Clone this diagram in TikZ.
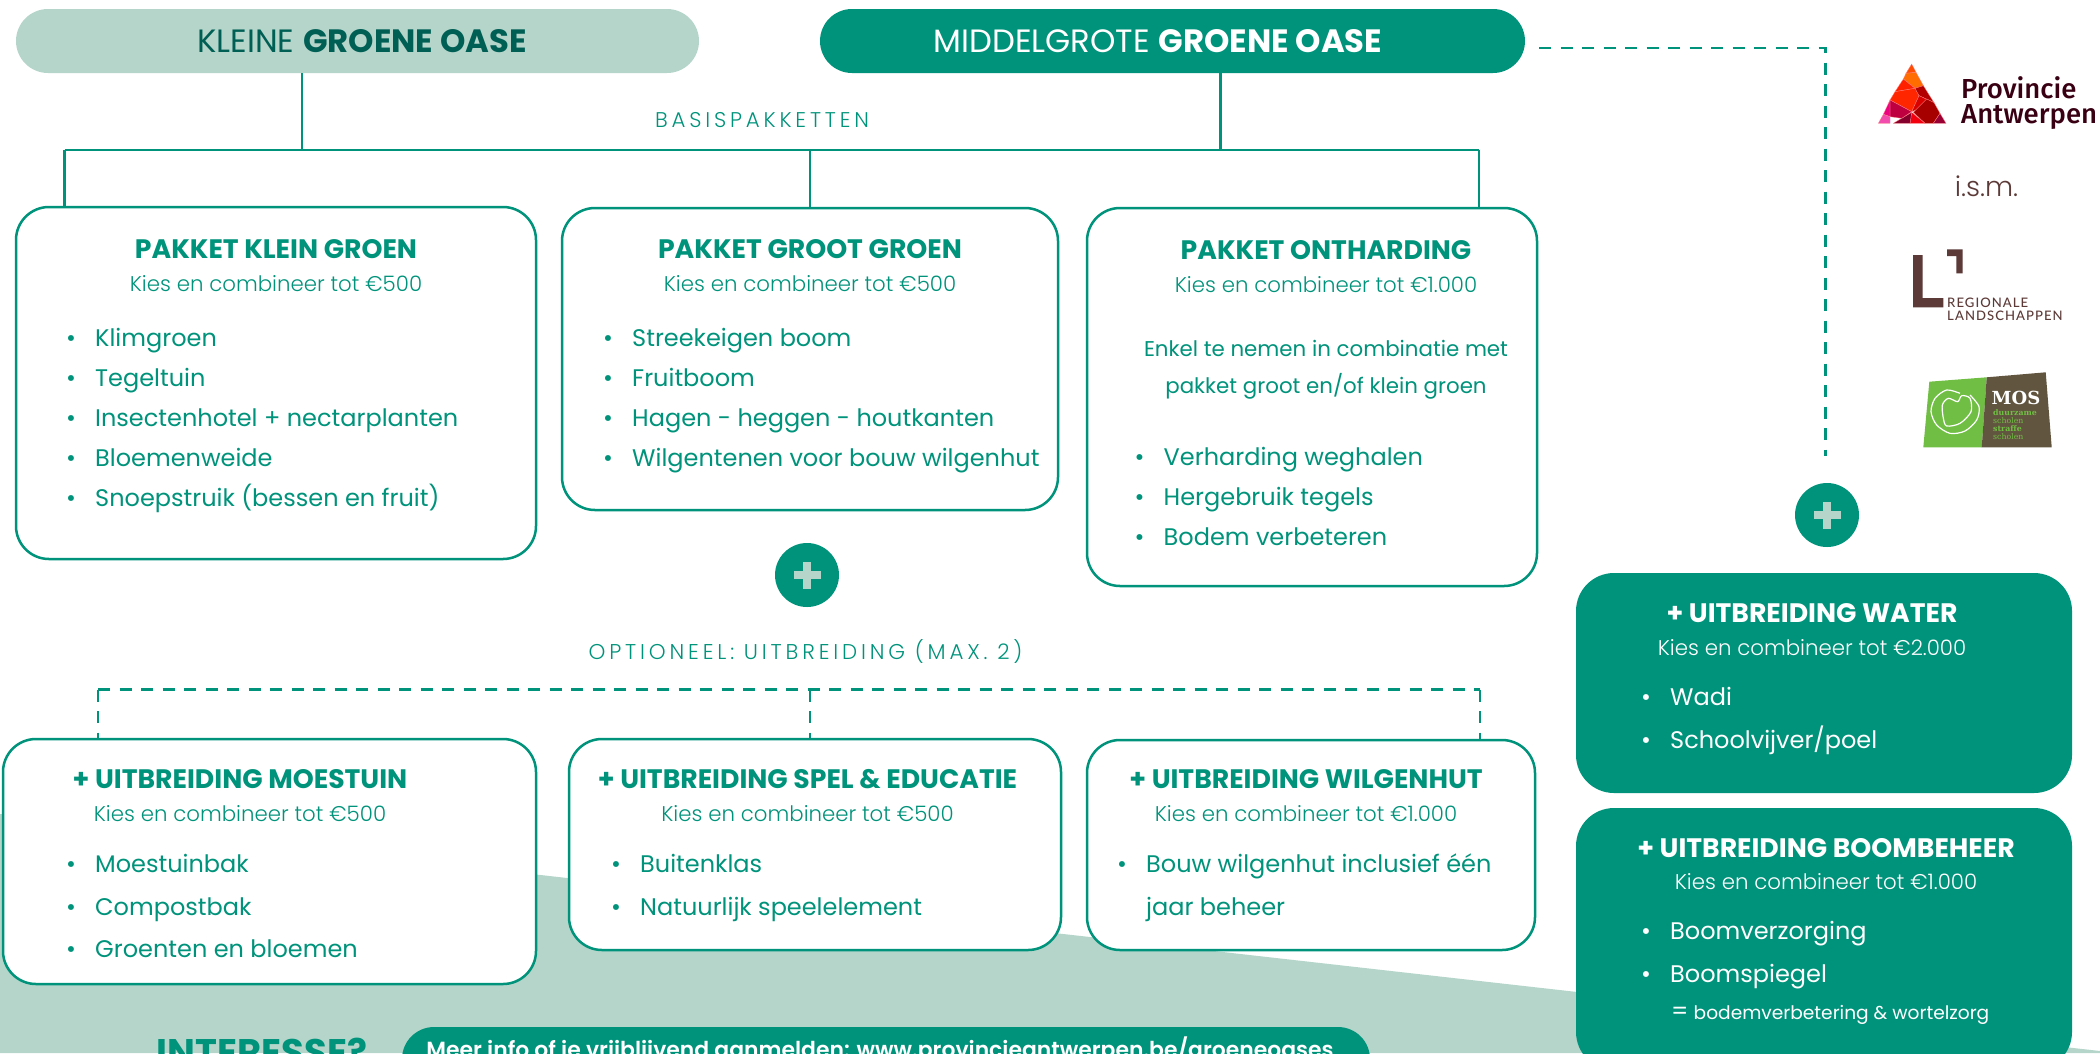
\documentclass[tikz,border=0pt]{standalone}
\usepackage{fontspec}
\setmainfont{Poppins}
\newfontfamily\poplight{Poppins Light}
\newfontfamily\popsemi{Poppins SemiBold}
\newfontfamily\popspaced[LetterSpace=18]{Poppins Light}
\newfontfamily\provfont{Fira Sans Medium}
\newfontfamily\rlfont[LetterSpace=8]{Lato Medium}
\newfontfamily\mosfont{DejaVu Serif}
\usetikzlibrary{positioning,calc}

\definecolor{groen}{HTML}{00937B}
\definecolor{licht}{HTML}{B5D5CA}
\definecolor{donker}{HTML}{005F55}
\definecolor{bruin}{HTML}{5C3A38}
\definecolor{mosgroen}{HTML}{70BF44}
\definecolor{mosbruin}{HTML}{62553F}

\newcommand{\pnt}[1]{\makebox[29pt][l]{•}#1}

\tikzset{
  pil/.style={rounded corners=32pt,minimum height=64pt,inner sep=0pt},
  pakket/.style={draw=groen,fill=white,line width=2.5pt,rounded corners=33pt,inner sep=0pt},
  uitbr/.style={fill=groen,rounded corners=38pt,inner sep=0pt},
  lijn/.style={draw=groen,line width=2.8pt},
  stip/.style={lijn,line width=2.5pt,dash pattern=on 12pt off 9.5pt},
  txt/.style={anchor=base,inner sep=0pt,text=groen},
  titel/.style={txt,yshift=-0.7pt,font=\fontsize{26.7}{26}\bfseries},
  keuze/.style={txt,font=\fontsize{21.3}{21}\poplight},
  item/.style={txt,anchor=base west,font=\fontsize{24}{25}\selectfont},
  wit/.style={text=white},
  plusrond/.style={circle,fill=groen,minimum size=64pt,inner sep=0pt,
    path picture={
      \fill[licht] ($(path picture bounding box.center)+(-13.5,-3.8)$) rectangle ++(27,7.6);
      \fill[licht] ($(path picture bounding box.center)+(-3.8,-13.5)$) rectangle ++(7.6,27);
    }},
}

\begin{document}
\begin{tikzpicture}[x=1pt,y=-1pt]
    \path[use as bounding box,clip] (0,0) rectangle (2100,1053);
    \fill[white] (0,0) rectangle (2100,1053);

    % Background
    \fill[licht] (0,814) -- (2100,1051) -- (2100,1053) -- (0,1053) -- cycle;

    % Top pills
    \node[pil,fill=licht,minimum width=683pt] (kleinPil) at (357.5,41) {};
    \node[pil,fill=groen,minimum width=705pt] (middelPil) at (1172.5,41) {};
    \node[txt,text=donker,font=\fontsize{32.3}{32}\selectfont] (kleinTxt) at (362,52) {KLEINE \textbf{GROENE OASE}};
    \node[txt,wit,font=\fontsize{32.3}{32}\selectfont] (middelTxt) at (1158,52) {MIDDELGROTE \textbf{GROENE OASE}};

    % Basic packages
    \node[txt,font=\fontsize{21.3}{21}\popspaced] (basisTxt) at (762,127) {BASISPAKKETTEN};
    \node[pakket,minimum width=520pt,minimum height=352pt] (pakKlein) at (276,383) {};
    \node[pakket,minimum width=496pt,minimum height=302pt] (pakGroot) at (810,359) {};
    \node[pakket,minimum width=450pt,minimum height=378pt] (pakOnth) at (1312,397) {};

    % Tree lines
    \coordinate (busL) at (64.5,150);
    \coordinate (busK) at (302,150);
    \coordinate (busM) at (810,150);
    \coordinate (busG) at (1220.5,150);
    \coordinate (busR) at (1479,150);
    \draw[lijn] (kleinPil.south -| busK) -- (busK);
    \draw[lijn] (middelPil.south -| busG) -- (busG);
    \draw[lijn] (busL) -- (busR);
    \draw[lijn] (busL) -- (busL |- pakKlein.north);
    \draw[lijn] (busM) -- (busM |- pakGroot.north);
    \draw[lijn] (busR) -- (busR |- pakOnth.north);

    % Pakket klein groen
    \node[titel] (kleinTitel) at (276,258) {PAKKET KLEIN GROEN};
    \node[keuze] (kleinKeuze) at (276,291.5) {Kies en combineer tot €500};
    \node[item] (klein1) at (66,346.5) {\pnt{Klimgroen}};
    \node[item] (klein2) at (66,386.5) {\pnt{Tegeltuin}};
    \node[item] (klein3) at (66,426.5) {\pnt{Insectenhotel + nectarplanten}};
    \node[item] (klein4) at (66,466.5) {\pnt{Bloemenweide}};
    \node[item] (klein5) at (66,506.5) {\pnt{Snoepstruik (bessen en fruit)}};

    % Pakket groot groen
    \node[titel] (grootTitel) at (810,258) {PAKKET GROOT GROEN};
    \node[keuze] (grootKeuze) at (810,291.5) {Kies en combineer tot €500};
    \node[item] (groot1) at (603,346.5) {\pnt{Streekeigen boom}};
    \node[item] (groot2) at (603,386.5) {\pnt{Fruitboom}};
    \node[item] (groot3) at (603,426.5) {\pnt{Hagen - heggen - houtkanten}};
    \node[item] (groot4) at (603,466.5) {\pnt{Wilgentenen voor bouw wilgenhut}};

    % Pakket ontharding
    \node[titel] (onthTitel) at (1326,259) {PAKKET ONTHARDING};
    \node[keuze] (onthKeuze) at (1326,292) {Kies en combineer tot €1.000};
    \node[txt,font=\fontsize{21.35}{22}\selectfont] (onthNoot1) at (1326,356) {Enkel te nemen in combinatie met};
    \node[txt,font=\fontsize{21.35}{22}\selectfont] (onthNoot2) at (1326,393.5) {pakket groot en/of klein groen};
    \node[item] (onth1) at (1134.5,465) {\pnt{Verharding weghalen}};
    \node[item] (onth2) at (1134.5,505) {\pnt{Hergebruik tegels}};
    \node[item] (onth3) at (1134.5,545.5) {\pnt{Bodem verbeteren}};

    % Optional extensions
    \node[plusrond] (plusMidden) at (807,575) {};
    \node[txt,font=\fontsize{21.4}{21}\popspaced] (optieTxt) at (805.5,659) {OPTIONEEL: UITBREIDING (MAX. 2)};
    \node[pakket,minimum width=533pt,minimum height=245pt] (uitMoes) at (269.5,861.5) {};
    \node[pakket,minimum width=492pt,minimum height=211pt] (uitSpel) at (815,844.5) {};
    \node[pakket,minimum width=448pt,minimum height=210pt] (uitWilg) at (1311,845) {};

    \coordinate (optL) at (98,689.5);
    \coordinate (optM) at (810,689.5);
    \coordinate (optR) at (1480,689.5);
    \draw[stip] (optL) -- (optR);
    \draw[stip] (optL) -- (optL |- uitMoes.north);
    \draw[stip] (optM) -- (optM |- uitSpel.north);
    \draw[stip] (optR) -- (optR |- uitWilg.north);

    % Uitbreiding moestuin
    \node[titel] (moesTitel) at (240,788) {+ UITBREIDING MOESTUIN};
    \node[keuze] (moesKeuze) at (240,821.5) {Kies en combineer tot €500};
    \node[item] (moes1) at (66,872.5) {\pnt{Moestuinbak}};
    \node[item] (moes2) at (66,915.5) {\pnt{Compostbak}};
    \node[item] (moes3) at (66,957) {\pnt{Groenten en bloemen}};

    % Uitbreiding spel en educatie
    \node[titel] (spelTitel) at (807.5,788) {+ UITBREIDING SPEL \& EDUCATIE};
    \node[keuze] (spelKeuze) at (807.5,821.5) {Kies en combineer tot €500};
    \node[item] (spel1) at (611,872.5) {\pnt{Buitenklas}};
    \node[item] (spel2) at (611,915.5) {\pnt{Natuurlijk speelelement}};

    % Uitbreiding wilgenhut
    \node[titel] (wilgTitel) at (1306,788) {+ UITBREIDING WILGENHUT};
    \node[keuze] (wilgKeuze) at (1306,821.5) {Kies en combineer tot €1.000};
    \node[item] (wilg1) at (1117,872.5) {\pnt{Bouw wilgenhut inclusief één}};
    \node[item] (wilg2) at (1146,915.5) {jaar beheer};

    % Right column
    \node[plusrond] (plusRechts) at (1827,515) {};
    \coordinate (stipStart) at (1539,48);
    \coordinate (stipHoek) at (1825.5,48);
    \coordinate (stipEind) at (1825.5,456);
    \draw[stip] (stipStart) -- (stipHoek) -- (stipEind);

    \node[uitbr,minimum width=496pt,minimum height=220pt] (uitWater) at (1824,683) {};
    \node[titel,wit] (waterTitel) at (1812,622) {+ UITBREIDING WATER};
    \node[keuze,wit] (waterKeuze) at (1812,655) {Kies en combineer tot €2.000};
    \node[item,wit] (water1) at (1641,705) {\pnt{Wadi}};
    \node[item,wit] (water2) at (1641,748) {\pnt{Schoolvijver/poel}};

    \node[uitbr,minimum width=496pt,minimum height=262pt] (uitBoom) at (1824,939) {};
    \node[titel,wit] (boomTitel) at (1826,856.5) {+ UITBREIDING BOOMBEHEER};
    \node[keuze,wit] (boomKeuze) at (1826,889) {Kies en combineer tot €1.000};
    \node[item,wit] (boom1) at (1641,939) {\pnt{Boomverzorging}};
    \node[item,wit] (boom2) at (1641,982.5) {\pnt{Boomspiegel}};
    \node[item,wit] (boom3) at (1671,1019) {=};
    \node[txt,wit,anchor=base west,font=\fontsize{18.6}{19}\selectfont] (boom4) at (1693.5,1019) {bodemverbetering \& wortelzorg};

    % Bottom band
    \node[txt,font=\fontsize{37}{37}\bfseries] (interesse) at (262,1065) {INTERESSE?};
    \node[pil,fill=groen,minimum width=968pt,minimum height=120pt] (infoPil) at (886,1087) {};
    \node[txt,wit,font=\fontsize{21.9}{22}\popsemi] (infoTxt) at (880,1057.5) {Meer info of je vrijblijvend aanmelden: www.provincieantwerpen.be/groeneoases};

    % Logo province
    \begin{scope}[shift={(1870,55)},x=0.3333pt,y=-0.3333pt,draw=white!50!red,line width=0.3pt]
      \filldraw[fill=orange!60!red] (125,27) -- (138,52) -- (108,55) -- cycle;
      \filldraw[fill=orange!85!red] (108,55) -- (138,52) -- (160,92) -- (135,100) -- (100,72) -- cycle;
      \filldraw[fill=red!75!orange] (100,72) -- (135,100) -- (75,110) -- cycle;
      \filldraw[fill=red!85!yellow] (75,110) -- (135,100) -- (147,122) -- (125,170) -- (60,135) -- cycle;
      \filldraw[fill=red!70!black] (135,100) -- (160,92) -- (192,143) -- (147,122) -- cycle;
      \filldraw[fill=red!85!black] (147,122) -- (192,143) -- (125,170) -- cycle;
      \filldraw[fill=red!65!black] (170,132) -- (192,143) -- (210,175) -- (190,205) -- (165,205) -- (130,172) -- cycle;
      \filldraw[fill=purple!80!black] (210,175) -- (228,205) -- (190,205) -- cycle;
      \filldraw[fill=red!80!purple] (125,172) -- (165,205) -- (120,205) -- cycle;
      \filldraw[fill=purple!70!black] (95,190) -- (125,172) -- (120,205) -- (70,205) -- cycle;
      \filldraw[fill=purple] (60,135) -- (125,170) -- (95,190) -- (60,185) -- cycle;
      \filldraw[fill=magenta!90!red] (60,135) -- (60,185) -- (40,178) -- cycle;
      \filldraw[fill=magenta!70!white] (25,205) -- (40,178) -- (60,185) -- (60,205) -- cycle;
    \end{scope}
    \node[txt,anchor=base west,text=purple!30!black,font=\fontsize{27.5}{27}\provfont] (provTxt1) at (1961,98) {Provincie};
    \node[txt,anchor=base west,text=purple!30!black,font=\fontsize{27.5}{27}\provfont] (provTxt2) at (1961,123) {Antwerpen};
    \node[txt,text=bruin,font=\fontsize{27.5}{27}\poplight] (ism) at (1986.5,196) {i.s.m.};

    % Logo landscapes
    \fill[bruin] (1913,255) -- (1922.5,255) -- (1922.5,298) -- (1943.3,298) -- (1943.3,307.3) -- (1913,307.3) -- cycle;
    \fill[bruin] (1947,249.3) -- (1962.7,249.3) -- (1962.7,273.3) -- (1956.3,273.3) -- (1956.3,256) -- (1947,256) -- cycle;
    \node[txt,anchor=base west,text=bruin,font=\fontsize{13.1}{13}\rlfont] (regioTxt1) at (1947,307) {REGIONALE};
    \node[txt,anchor=base west,text=bruin,font=\fontsize{13.1}{13}\rlfont] (regioTxt2) at (1947,320) {LANDSCHAPPEN};

    % Logo MOS
    \fill[mosgroen] (1929.3,381.7) -- (1986.7,377.3) -- (1981.7,447.3) -- (1923.3,447.3) -- cycle;
    \fill[mosbruin] (1986.7,377.3) -- (2045.7,372.3) -- (2051.7,447.3) -- (1981.7,447.3) -- cycle;
    \begin{scope}[shift={(1915,365)},x=0.3333pt,y=-0.3333pt]
      \draw[white,line width=1.2pt] plot[smooth] coordinates {(135,85) (95,75) (60,100) (48,140) (65,180) (105,205) (150,198) (185,165) (192,125) (165,90)};
      \draw[white,line width=1.2pt] plot[smooth cycle] coordinates {(128,110) (100,100) (82,120) (85,160) (95,183) (135,175) (168,140) (165,100) (140,92)};
    \end{scope}
    \node[txt,wit,font=\fontsize{18}{18}\mosfont\bfseries] (mosTxt) at (2016,404) {MOS};
    \node[txt,anchor=base west,text=mosgroen,font=\fontsize{7.8}{9}\mosfont\bfseries] (mos1) at (1993,415.5) {duurzame};
    \node[txt,anchor=base west,text=mosgroen,font=\fontsize{7.8}{9}\mosfont] (mos2) at (1993,423.5) {scholen};
    \node[txt,anchor=base west,text=mosgroen,font=\fontsize{7.8}{9}\mosfont\bfseries] (mos3) at (1993,431.7) {straffe};
    \node[txt,anchor=base west,text=mosgroen,font=\fontsize{7.8}{9}\mosfont] (mos4) at (1993,439.7) {scholen};
\end{tikzpicture}
\end{document}
